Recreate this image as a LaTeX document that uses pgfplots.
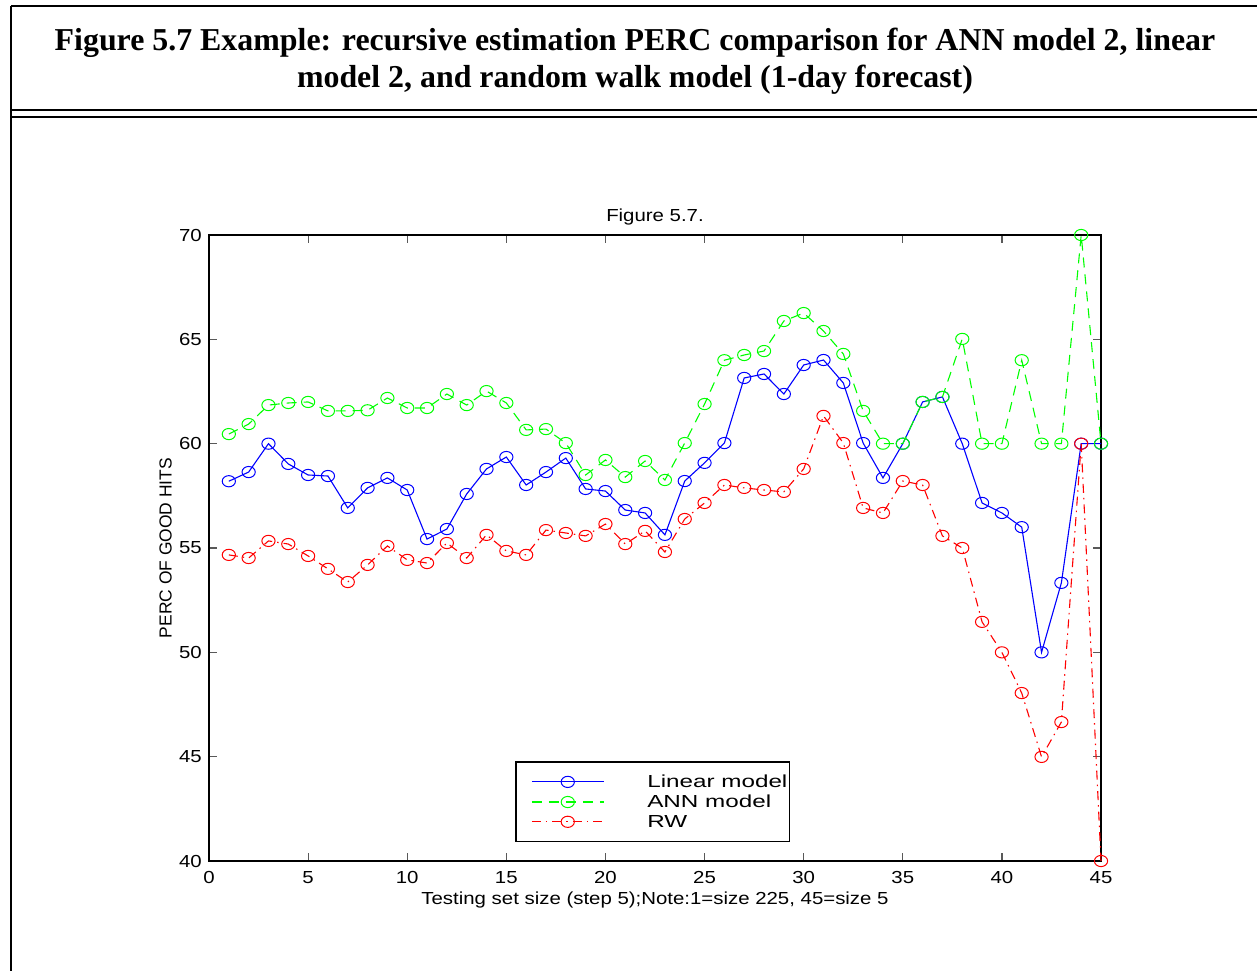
\documentclass[border=0pt]{standalone}
\usepackage{fontspec}
\setmainfont{Liberation Sans}
\newfontfamily\axfont{Liberation Sans}[FakeStretch=1.17]
\newfontfamily\legfont{Liberation Sans}[FakeStretch=1.39]
\newfontfamily\hdrfont{Liberation Serif}
\usepackage{pgfplots}
\pgfplotsset{compat=1.18}

% series: Linear model, ANN model, RW
\pgfplotstableread{
x lin ann rw
1 58.2 60.46 54.67
2 58.64 60.94 54.52
3 60.0 61.85 55.34
4 59.03 61.95 55.19
5 58.5 62.0 54.62
6 58.45 61.57 54.0
7 56.92 61.57 53.37
8 57.88 61.6 54.19
9 58.36 62.19 55.1
10 57.78 61.71 54.43
11 55.43 61.71 54.28
12 55.91 62.38 55.24
13 57.59 61.85 54.52
14 58.79 62.52 55.63
15 59.36 61.95 54.86
16 58.02 60.66 54.67
17 58.64 60.7 55.86
18 59.31 60.03 55.72
19 57.83 58.5 55.58
20 57.73 59.22 56.15
21 56.82 58.4 55.19
22 56.68 59.17 55.82
23 55.63 58.26 54.81
24 58.21 60.03 56.39
25 59.08 61.9 57.16
26 60.03 64.0 58.02
27 63.15 64.25 57.88
28 63.34 64.44 57.78
29 62.38 65.88 57.69
30 63.77 66.26 58.79
31 64.01 65.4 61.33
32 62.91 64.3 60.03
33 60.03 61.57 56.92
34 58.36 60.0 56.68
35 60.0 60.0 58.21
36 62.0 62.0 58.02
37 62.24 62.24 55.58
38 60.0 65.02 55.0
39 57.16 60.0 51.46
40 56.68 60.0 50.0
41 56.0 64.0 48.05
42 50.0 60.0 44.99
43 53.33 60.0 46.66
44 60.0 70.0 60.0
45 60.0 60.0 40.0
}\datatable

\begin{document}
\begin{tikzpicture}[x=1bp,y=-1bp]
\useasboundingbox (0,0) rectangle (1257,971);
% page frame
\draw[line width=2bp] (11,6) -- (1257,6);
\draw[line width=2bp] (11,6) -- (11,971);
\draw[line width=1.6bp] (11,110) -- (1257,110);
\draw[line width=2bp] (11,117) -- (1257,117);
\node[anchor=base,inner sep=0pt,font=\hdrfont\bfseries\fontsize{32}{38}\selectfont]
  at (635,50) {Figure 5.7 Example: recursive estimation PERC comparison for ANN model 2, linear};
\node[anchor=base,inner sep=0pt,font=\hdrfont\bfseries\fontsize{32}{38}\selectfont]
  at (635,87) {model 2, and random walk model (1-day forecast)};

\begin{axis}[
  at={(209bp,-861bp)}, anchor=south west,
  width=892bp, height=626bp, scale only axis,
  xmin=0, xmax=45, ymin=40, ymax=70,
  xtick={0,5,...,45}, ytick={40,45,...,70},
  clip=false,
  axis line style={line width=1.6bp, black},
  tick align=inside, xtick pos=both, ytick pos=both,
  major tick length=8bp,
  tick style={line width=1.2bp, black!65},
  /pgf/number format/assume math mode=true,
  ticklabel style={font=\axfont\fontsize{17.5}{20}\selectfont, inner sep=0pt},
  xticklabel style={yshift=-10bp},
  yticklabel style={xshift=-7bp},
  title={Figure 5.7.},
  title style={at={(axis description cs:0.5,1)}, anchor=base, yshift=8bp,
    inner sep=0pt, font=\axfont\fontsize{17.5}{20}\selectfont},
  xlabel={Testing set size (step 5);Note:1=size 225, 45=size 5},
  xlabel style={at={(axis description cs:0.5,-0.0495)}, anchor=north,
    inner sep=0pt, font=\axfont\fontsize{17.5}{20}\selectfont},
  ylabel={PERC OF GOOD HITS},
  ylabel style={at={(axis description cs:-0.0415,0.5)}, anchor=south,
    inner sep=0pt, font=\fontsize{17.5}{20}\selectfont},
  legend style={at={(0.343,0.1597)}, anchor=north west, draw=black,
    line width=1.6bp, inner xsep=0bp, inner ysep=11bp,
    font=\legfont\fontsize{17.5}{20}\selectfont, row sep=2bp,
    /tikz/every odd column/.append style={column sep=41bp}},
  legend cell align=left,
  legend image code/.code={\path[draw=none] (-16bp,0bp) -- (0bp,0bp);
    \draw[mark repeat=2,mark phase=2,#1] plot coordinates {(0bp,0bp)(36bp,0bp)(72bp,0bp)};},
  every axis plot/.append style={line width=1.1bp, mark=o, mark size=5.6bp,
    mark options={solid, xscale=1.18, line width=1bp}},
]
\addplot[color=blue] table[x=x,y=lin] {\datatable};
\addlegendentry{Linear model}
\addplot[color=green, dash pattern=on 10bp off 7bp] table[x=x,y=ann] {\datatable};
\addlegendentry{ANN model}
\addplot[color=red, dash pattern=on 9bp off 5bp on 1.5bp off 5bp] table[x=x,y=rw] {\datatable};
\addlegendentry{RW}
\end{axis}
\end{tikzpicture}
\end{document}
